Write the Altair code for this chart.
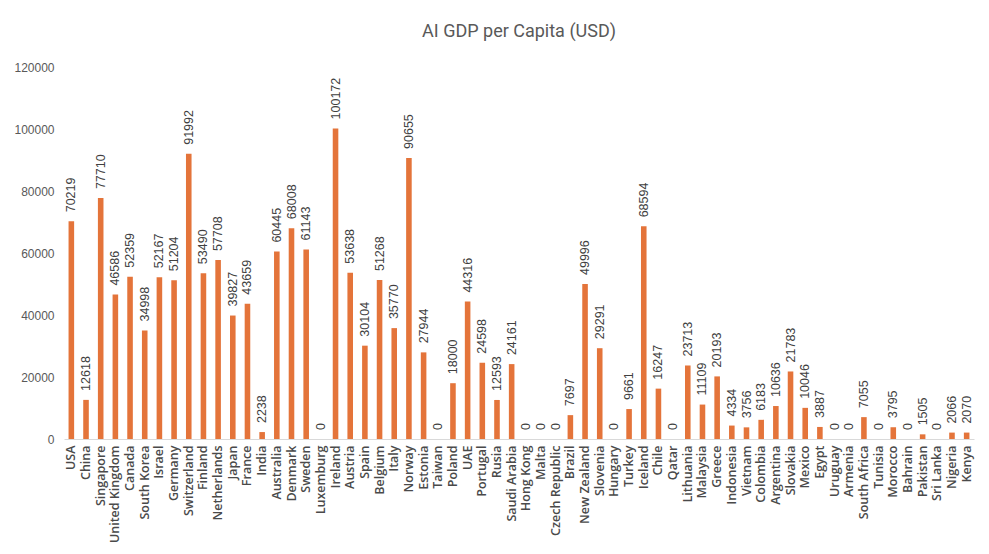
import altair as alt
import pandas as pd

countries = [
    "USA", "China", "Singapore", "United Kingdom", "Canada", "South Korea", "Israel",
    "Germany", "Switzerland", "Finland", "Netherlands", "Japan", "France", "India",
    "Australia", "Denmark", "Sweden", "Luxemburg", "Ireland", "Austria", "Spain",
    "Belgium", "Italy", "Norway", "Estonia", "Taiwan", "Poland", "UAE", "Portugal",
    "Rusia", "Saudi Arabia", "Hong Kong", "Malta", "Czech Republic", "Brazil",
    "New Zealand", "Slovenia", "Hungary", "Turkey", "Iceland", "Chile", "Qatar",
    "Lithuania", "Malaysia", "Greece", "Indonesia", "Vietnam", "Colombia", "Argentina",
    "Slovakia", "Mexico", "Egypt", "Uruguay", "Armenia", "South Africa", "Tunisia",
    "Morocco", "Bahrain", "Pakistan", "Sri Lanka", "Nigeria", "Kenya",
]
values = [
    70219, 12618, 77710, 46586, 52359, 34998, 52167,
    51204, 91992, 53490, 57708, 39827, 43659, 2238,
    60445, 68008, 61143, 0, 100172, 53638, 30104,
    51268, 35770, 90655, 27944, 0, 18000, 44316, 24598,
    12593, 24161, 0, 0, 0, 7697,
    49996, 29291, 0, 9661, 68594, 16247, 0,
    23713, 11109, 20193, 4334, 3756, 6183, 10636,
    21783, 10046, 3887, 0, 0, 7055, 0,
    3795, 0, 1505, 0, 2066, 2070,
]
y_ticks = [0, 20000, 40000, 60000, 80000, 100000, 120000]

df = pd.DataFrame({"country": countries, "value": values})

x = alt.X(
    "country:N",
    sort=countries,
    title=None,
    scale=alt.Scale(paddingInner=0.62, paddingOuter=0.31),
    axis=alt.Axis(
        labelAngle=-90,
        labelFont="Open Sans",
        labelFontWeight=600,
        labelFontSize=12.5,
        labelColor="#4a4a4a",
        labelPadding=6,
        ticks=False,
        domainColor="#D9D9D9",
        domainWidth=1,
    ),
)
y = alt.Y(
    "value:Q",
    title=None,
    scale=alt.Scale(domain=[0, 120000], nice=False),
    axis=alt.Axis(
        values=y_ticks,
        grid=False,
        domain=False,
        ticks=False,
        labelFont="Liberation Sans",
        labelFontSize=12,
        labelColor="#595959",
        labelPadding=10,
        format="d",
    ),
)

bars = alt.Chart(df).mark_bar(color="#E4743A").encode(x=x, y=y)

labels = alt.Chart(df).mark_text(
    angle=270,
    align="left",
    baseline="middle",
    dx=9,
    font="Liberation Sans",
    fontSize=12.5,
    color="#404040",
).encode(x=x, y=y, text=alt.Text("value:Q", format="d"))

chart = (
    alt.layer(bars, labels)
    .properties(
        width=910,
        height=372,
        background="white",
        padding={"left": 5, "right": 5, "top": 15, "bottom": 2},
        title=alt.TitleParams(
            "AI GDP per Capita (USD)",
            font="Roboto",
            fontSize=18,
            fontWeight="normal",
            color="#595959",
            anchor="middle",
            offset=20,
        ),
    )
    .configure_view(strokeWidth=0, stroke="transparent")
)

chart.save("out.html", embed_options={"renderer": "svg", "actions": False})
